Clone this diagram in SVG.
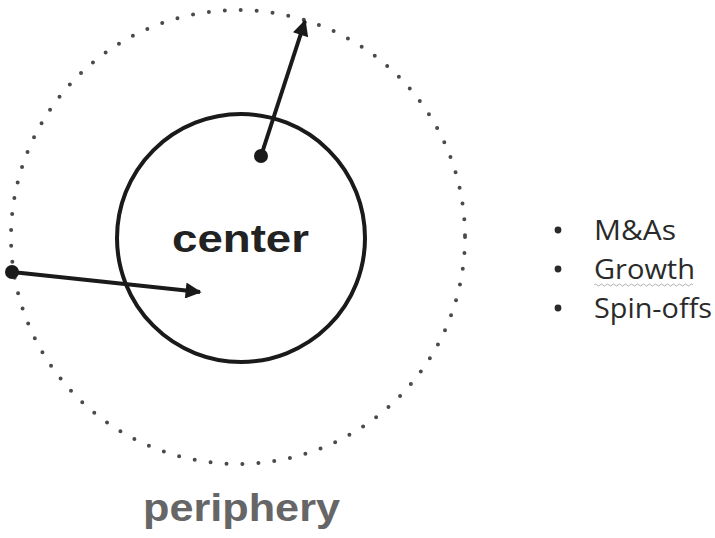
<svg xmlns="http://www.w3.org/2000/svg" width="715" height="538" viewBox="0 0 715 538">
<defs>
<style>
.arrow{stroke:#1a1a1a;stroke-width:4;fill:none}
.bullet{font-family:"Open Sans","Noto Sans",sans-serif;font-size:28px;fill:#2a2a2a}
</style>
<marker id="ah" viewBox="0 0 10 10" refX="9" refY="5" markerWidth="4.5" markerHeight="4" orient="auto" markerUnits="strokeWidth">
<path d="M0,0 L10,5 L0,10 z" fill="#1a1a1a"/>
</marker>
</defs>
<rect width="715" height="538" fill="#ffffff"/>
<g id="periphery">
<circle cx="238" cy="237" r="227" fill="none" stroke="#4a4a4a" stroke-width="4" stroke-linecap="round" stroke-dasharray="0 16"/>
<text x="143" y="521" textLength="197" lengthAdjust="spacingAndGlyphs" font-family="'Liberation Sans',Arial,sans-serif" font-weight="bold" font-size="38" fill="#666">periphery</text>
</g>
<g id="center">
<circle cx="241" cy="238" r="124" fill="none" stroke="#1a1a1a" stroke-width="4"/>
<text x="172" y="252" textLength="137" lengthAdjust="spacingAndGlyphs" font-family="'Liberation Sans',Arial,sans-serif" font-weight="bold" font-size="39" fill="#222">center</text>
</g>
<g id="connectors">
<circle cx="261" cy="156" r="7" fill="#1a1a1a"/>
<line class="arrow" x1="261" y1="156" x2="305" y2="21" marker-end="url(#ah)"/>
<circle cx="12" cy="272" r="7" fill="#1a1a1a"/>
<line class="arrow" x1="12" y1="272" x2="200" y2="292" marker-end="url(#ah)"/>
</g>
<g id="list">
<circle cx="558" cy="230" r="3.4" fill="#2a2a2a"/>
<circle cx="558" cy="269" r="3.4" fill="#2a2a2a"/>
<circle cx="558" cy="308" r="3.4" fill="#2a2a2a"/>
<text class="bullet" x="594" y="240" textLength="82" lengthAdjust="spacingAndGlyphs">M&amp;As</text>
<text class="bullet" x="594" y="279" textLength="101" lengthAdjust="spacingAndGlyphs">Growth</text>
<text class="bullet" x="594" y="318" textLength="118" lengthAdjust="spacingAndGlyphs">Spin-offs</text>
<path d="M594,285 q1.5,-2 3,0 t3,0 t3,0 t3,0 t3,0 t3,0 t3,0 t3,0 t3,0 t3,0 t3,0 t3,0 t3,0 t3,0 t3,0 t3,0 t3,0 t3,0 t3,0 t3,0 t3,0 t3,0 t3,0 t3,0 t3,0 t3,0 t3,0 t3,0 t3,0 t3,0 t3,0 t3,0 t3,0" fill="none" stroke="#b0b0b0" stroke-width="1"/>
</g>
</svg>
